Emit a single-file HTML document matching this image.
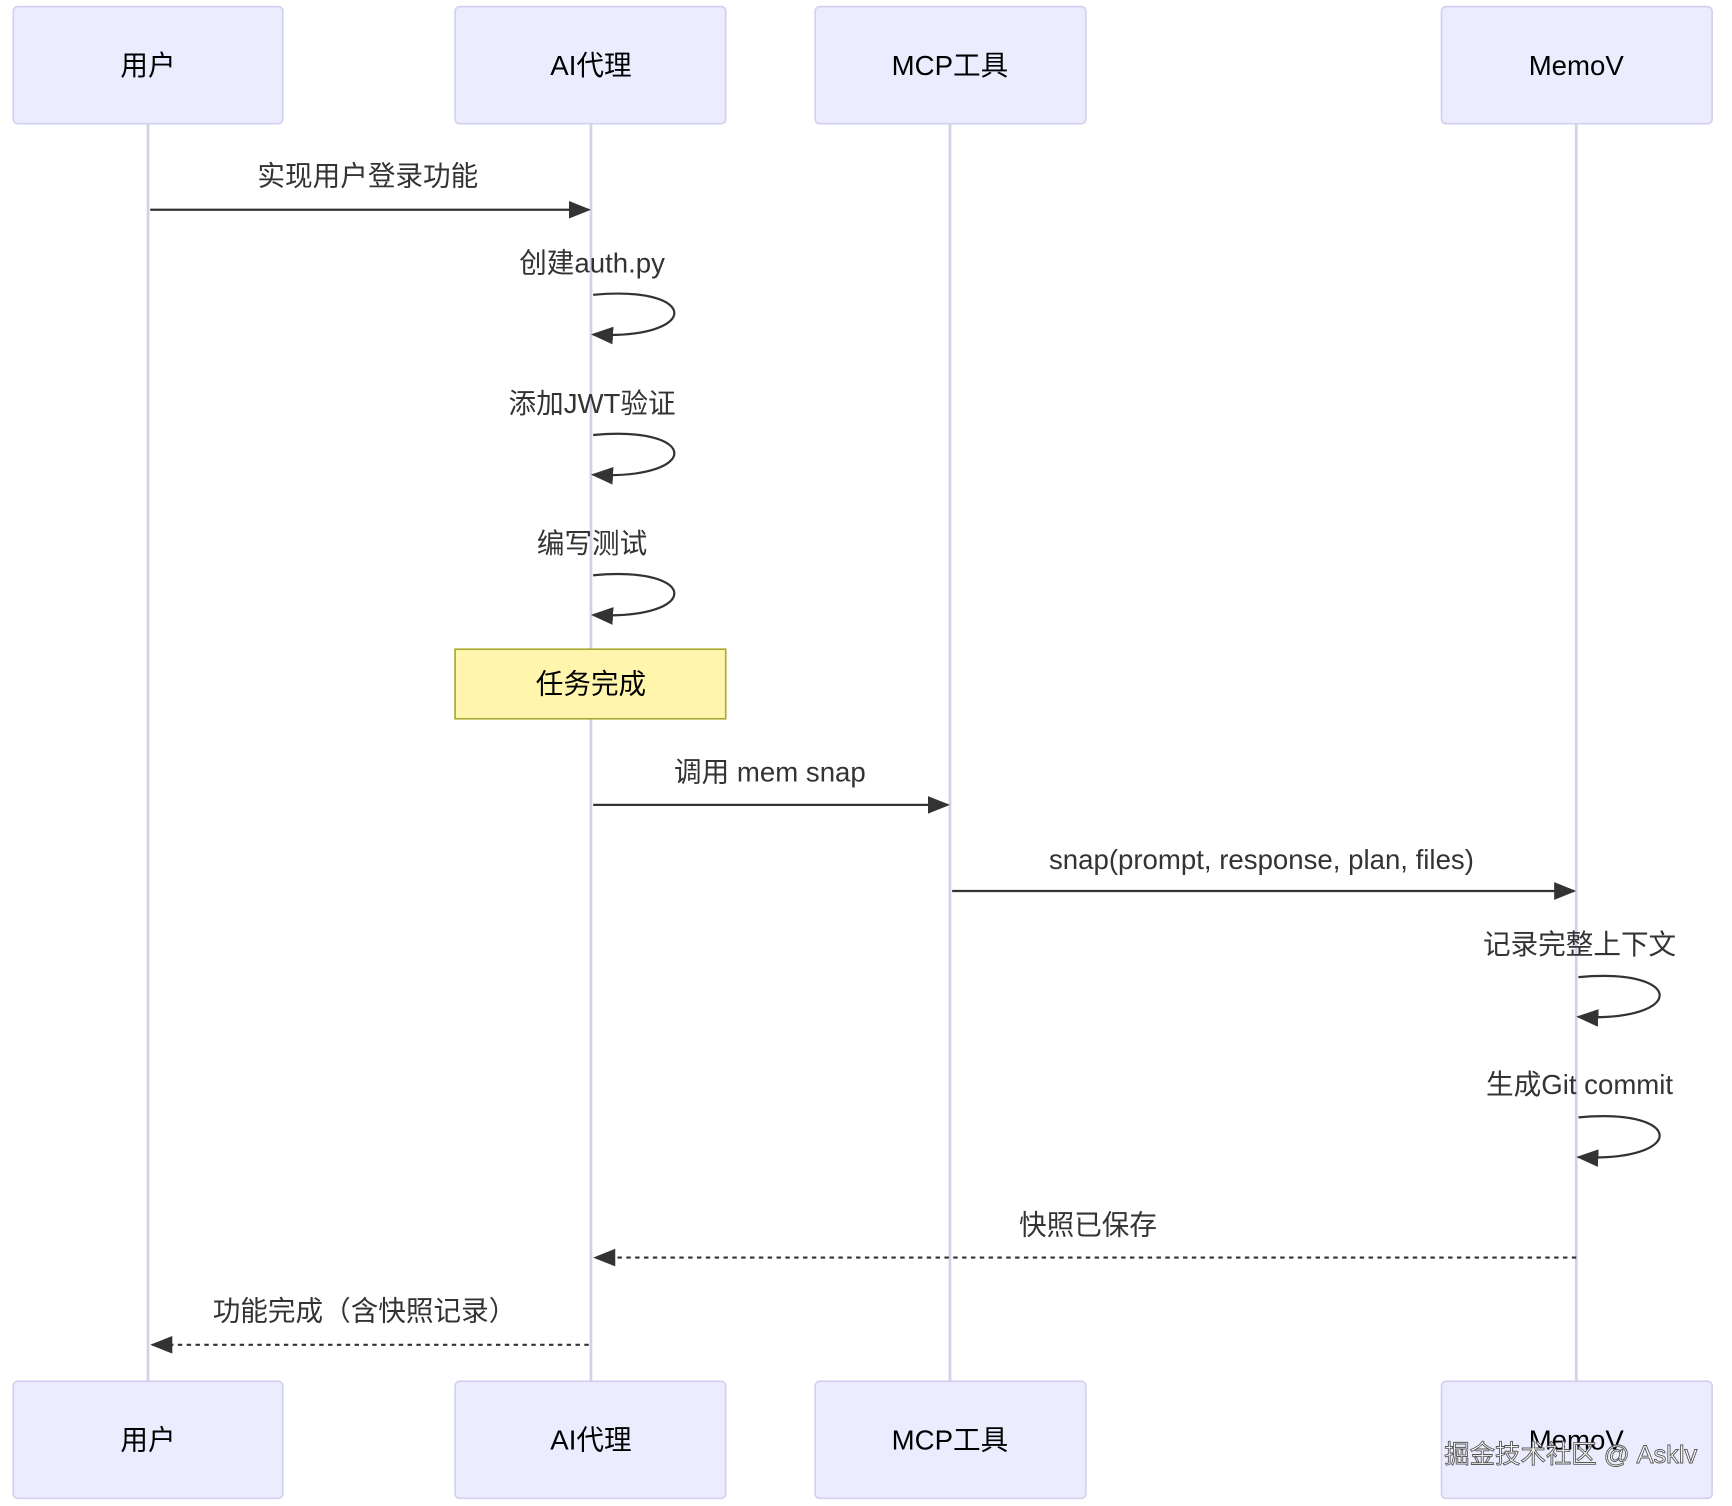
<!DOCTYPE html>
<html><head><meta charset="utf-8"><style>
html,body{margin:0;padding:0;background:#fff;}
svg{display:block;}
text{font-family:"Liberation Sans","Noto Sans CJK SC",sans-serif;}
</style></head><body>
<svg width="1732" height="1506" viewBox="0 0 1568 1364" preserveAspectRatio="none" xmlns="http://www.w3.org/2000/svg">
<defs>
<marker id="ah2" markerWidth="20" markerHeight="16" refX="18" refY="8" orient="auto" markerUnits="userSpaceOnUse" viewBox="0 0 20 16">
<path d="M0,0 L20,8 L0,16 z" fill="#333"/></marker>
</defs>
<rect width="1568" height="1364" fill="#fff"/>
<g stroke="#d3d0ea" stroke-width="2.5">
<line x1="134" y1="112" x2="134" y2="1251"/>
<line x1="535" y1="112" x2="535" y2="1251"/>
<line x1="860" y1="112" x2="860" y2="1251"/>
<line x1="1427" y1="112" x2="1427" y2="1251"/>
</g>
<g fill="#ececff" stroke="#d3d0f0" stroke-width="1.5">
<rect x="12" y="6" width="244" height="106" rx="4"/>
<rect x="412" y="6" width="245" height="106" rx="4"/>
<rect x="738" y="6" width="245" height="106" rx="4"/>
<rect x="1305" y="6" width="245" height="106" rx="4"/>
<rect x="12" y="1251" width="244" height="106" rx="4"/>
<rect x="412" y="1251" width="245" height="106" rx="4"/>
<rect x="738" y="1251" width="245" height="106" rx="4"/>
<rect x="1305" y="1251" width="245" height="106" rx="4"/>
</g>
<g font-size="25" fill="#000" text-anchor="middle">
<text x="134" y="68">用户</text>
<text x="535" y="68">AI代理</text>
<text x="860" y="68">MCP工具</text>
<text x="1427" y="68">MemoV</text>
<text x="134" y="1313">用户</text>
<text x="535" y="1313">AI代理</text>
<text x="860" y="1313">MCP工具</text>
<text x="1427" y="1313">MemoV</text>
</g>
<rect x="412" y="588" width="245" height="63" fill="#fff5ad" stroke="#aaaa33" stroke-width="1.5"/>
<text x="535" y="628" font-size="25" text-anchor="middle" fill="#000">任务完成</text>
<g font-size="25" fill="#333" text-anchor="middle">
<text x="333" y="168">实现用户登录功能</text>
<text x="536" y="247">创建auth.py</text>
<text x="536" y="374">添加JWT验证</text>
<text x="536" y="501">编写测试</text>
<text x="697" y="708">调用 mem snap</text>
<text x="1142" y="787">snap(prompt, response, plan, files)</text>
<text x="1430" y="864">记录完整上下文</text>
<text x="1430" y="991">生成Git commit</text>
<text x="985" y="1118">快照已保存</text>
<text x="330" y="1196">功能完成（含快照记录）</text>
</g>
<g stroke="#333" stroke-width="2" fill="none">
<line x1="136" y1="190" x2="533" y2="190" marker-end="url(#ah2)"/>
<path d="M537,267 C635,258 635,308 537,303" marker-end="url(#ah2)"/>
<path d="M537,394 C635,385 635,435 537,430" marker-end="url(#ah2)"/>
<path d="M537,521 C635,512 635,562 537,557" marker-end="url(#ah2)"/>
<line x1="537" y1="729" x2="858" y2="729" marker-end="url(#ah2)"/>
<line x1="862" y1="807" x2="1425" y2="807" marker-end="url(#ah2)"/>
<path d="M1429,885 C1527,876 1527,926 1429,921" marker-end="url(#ah2)"/>
<path d="M1429,1012 C1527,1003 1527,1053 1429,1048" marker-end="url(#ah2)"/>
<line x1="1427" y1="1139" x2="539" y2="1139" stroke-dasharray="4,4" marker-end="url(#ah2)"/>
<line x1="533" y1="1218" x2="138" y2="1218" stroke-dasharray="4,4" marker-end="url(#ah2)"/>
</g>
<text x="1422" y="1325" font-size="23" text-anchor="middle" fill="#fff" stroke="#555" stroke-width="0.8">掘金技术社区 @ Asklv</text>
</svg>
</body></html>
